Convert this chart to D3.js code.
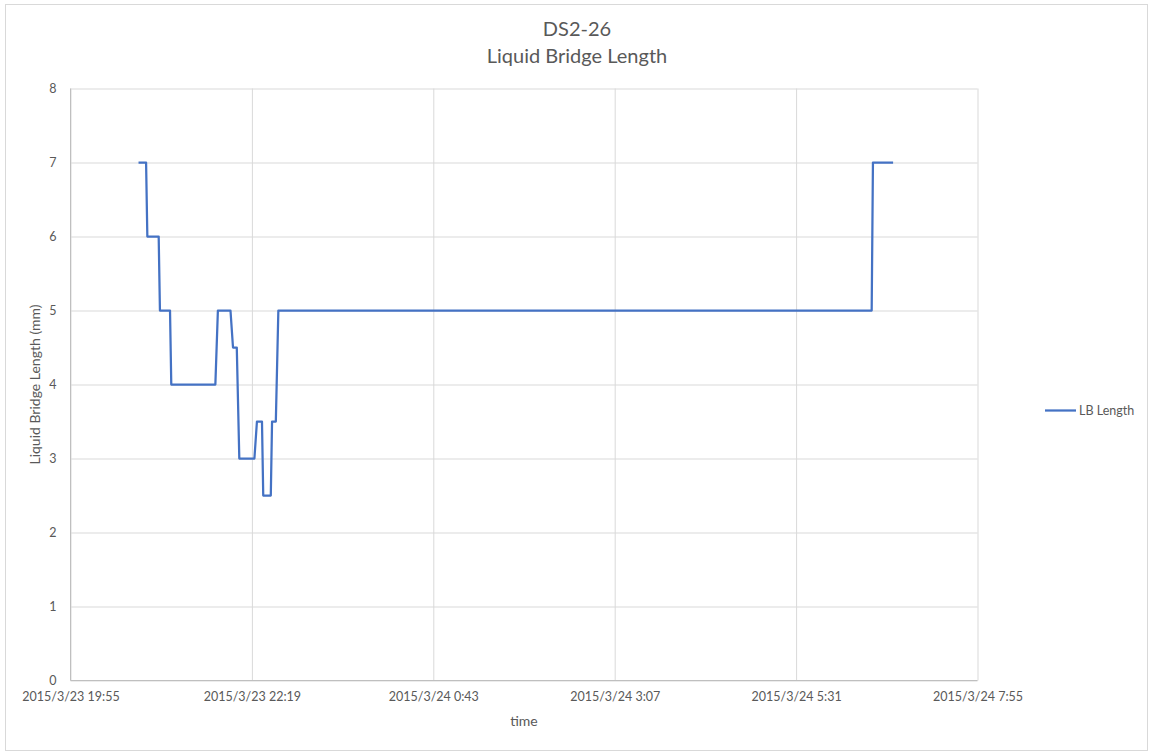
<!DOCTYPE html>
<html><head><meta charset="utf-8">
<script src="https://cdn.jsdelivr.net/npm/d3@7"></script>
<style>
html,body{margin:0;padding:0;background:#fff;}
svg text{font-family:Lato,"Open Sans",sans-serif;fill:#595959;}
</style></head>
<body>
<svg id="chart" width="1157" height="756"></svg>
<script>
const titleLines = ["DS2-26", "Liquid Bridge Length"];
const seriesName = "LB Length";
const xTitle = "time";
const yTitle = "Liquid Bridge Length (mm)";
const times = ["2015-03-23 20:49","2015-03-23 20:55","2015-03-23 20:56","2015-03-23 21:05","2015-03-23 21:06","2015-03-23 21:14","2015-03-23 21:15","2015-03-23 21:50","2015-03-23 21:52","2015-03-23 22:02","2015-03-23 22:04","2015-03-23 22:07","2015-03-23 22:09","2015-03-23 22:21","2015-03-23 22:23","2015-03-23 22:27","2015-03-23 22:28","2015-03-23 22:34","2015-03-23 22:35","2015-03-23 22:38","2015-03-23 22:40","2015-03-24 06:31","2015-03-24 06:32","2015-03-24 06:48"];
const values = [7,7,6,6,5,5,4,4,5,5,4.5,4.5,3,3,3.5,3.5,2.5,2.5,3.5,3.5,5,5,7,7];
const xTickLabels = ["2015/3/23 19:55","2015/3/23 22:19","2015/3/24 0:43","2015/3/24 3:07","2015/3/24 5:31","2015/3/24 7:55"];
const xTickTimes = ["2015-03-23 19:55","2015-03-23 22:19","2015-03-24 00:43","2015-03-24 03:07","2015-03-24 05:31","2015-03-24 07:55"];
const yTicks = [0,1,2,3,4,5,6,7,8];

const parse = d3.timeParse("%Y-%m-%d %H:%M");
const data = times.map((t,i)=>({t:parse(t), v:values[i]}));
const svg = d3.select("#chart");

svg.append("rect").attr("x",5.5).attr("y",4.5).attr("width",1142).attr("height",746)
  .attr("fill","#fff").attr("stroke","#d9d9d9").attr("stroke-width",1);

const L=70.5, R=977.5, T=88.5, B=680.5;
const x = d3.scaleTime().domain([parse(xTickTimes[0]), parse(xTickTimes[xTickTimes.length-1])]).range([L,R]);
const y = d3.scaleLinear().domain([0,8]).range([B,T]);

// gridlines
const gy = svg.append("g").attr("transform",`translate(${L},0)`)
  .call(d3.axisLeft(y).tickValues(yTicks).tickSize(-(R-L)).tickFormat(""));
gy.select(".domain").remove();
gy.selectAll("line").attr("stroke","#d9d9d9");
const gx = svg.append("g").attr("transform",`translate(0,${B})`)
  .call(d3.axisBottom(x).tickValues(xTickTimes.map(parse)).tickSize(-(B-T)).tickFormat(""));
gx.select(".domain").remove();
gx.selectAll("line").attr("stroke","#d9d9d9");

// axis lines
svg.append("line").attr("x1",L).attr("x2",L).attr("y1",T).attr("y2",B).attr("stroke","#bfbfbf");
svg.append("line").attr("x1",L).attr("x2",R).attr("y1",B).attr("y2",B).attr("stroke","#bfbfbf");

// tick labels
const ya = svg.append("g").attr("transform",`translate(${L},0)`)
  .call(d3.axisLeft(y).tickValues(yTicks).tickSize(0).tickPadding(14).tickFormat(d3.format("d")));
ya.select(".domain").remove();
ya.selectAll("text").attr("font-size","12.5px").attr("font-family","Lato").attr("fill","#595959");
const xa = svg.append("g").attr("transform",`translate(0,${B})`)
  .call(d3.axisBottom(x).tickValues(xTickTimes.map(parse)).tickSize(0).tickPadding(12)
    .tickFormat((d,i)=>xTickLabels[i]));
xa.select(".domain").remove();
xa.selectAll("text").attr("font-size","12.5px").attr("font-family","Lato").attr("fill","#595959");

// line
const line = d3.line().x(d=>x(d.t)).y(d=>y(d.v));
svg.append("path").datum(data).attr("d",line).attr("fill","none")
  .attr("stroke","#4472C4").attr("stroke-width",2.25).attr("stroke-linejoin","round");

// titles
svg.append("text").attr("x",577).attr("y",36).attr("text-anchor","middle").attr("font-size","20px").text(titleLines[0]);
svg.append("text").attr("x",577).attr("y",63).attr("text-anchor","middle").attr("font-size","20px").text(titleLines[1]);
svg.append("text").attr("x",(L+R)/2).attr("y",726).attr("text-anchor","middle").attr("font-size","14px").text(xTitle);
svg.append("text").attr("transform",`translate(40,${(T+B)/2}) rotate(-90)`).attr("text-anchor","middle").attr("font-size","14px").text(yTitle);

// legend
svg.append("line").attr("x1",1045).attr("x2",1076).attr("y1",410.5).attr("y2",410.5).attr("stroke","#4472C4").attr("stroke-width",2.25);
svg.append("text").attr("x",1079).attr("y",414.5).attr("font-size","12.5px").text(seriesName);
</script>
</body></html>
